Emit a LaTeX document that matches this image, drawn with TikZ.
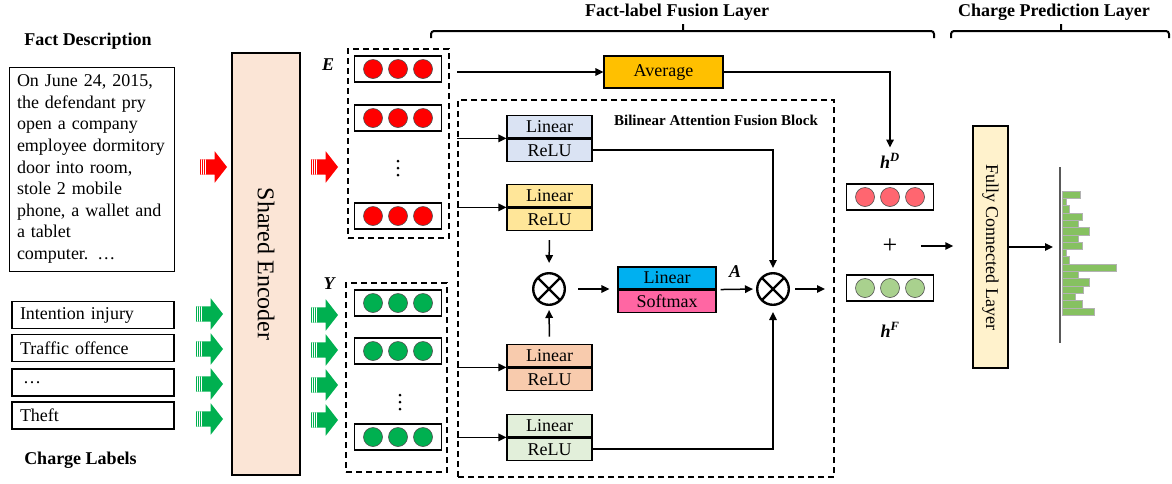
\documentclass[tikz,border=0pt]{standalone}
\usepackage{fontspec}
\setmainfont{Liberation Serif}
\usetikzlibrary{arrows.meta,positioning,shapes.arrows}
\definecolor{encfill}{HTML}{FBE5D6}
\definecolor{avgfill}{HTML}{FFC000}
\definecolor{lblue}{HTML}{DAE3F3}
\definecolor{lyellow}{HTML}{FFE699}
\definecolor{lorange}{HTML}{F8CBAD}
\definecolor{lgreen}{HTML}{E2EFDA}
\definecolor{cyanfill}{HTML}{00B0F0}
\definecolor{pinkfill}{HTML}{FF66A3}
\definecolor{fcfill}{HTML}{FFF2CC}
\definecolor{cred}{HTML}{FF0000}
\definecolor{cgreen}{HTML}{00B050}
\definecolor{cpink}{HTML}{FF6670}
\definecolor{clgreen}{HTML}{A9D18E}
\definecolor{barfill}{HTML}{86C160}
\newcommand\fs{\fontsize{18}{21.6}\selectfont}

\begin{document}
\begin{tikzpicture}[
    x=1pt, y=-1pt, % pixel grid, (0,0) at top left
    box/.style={draw, line width=1.2pt, inner sep=0pt, font=\fs},
    layer/.style={box, minimum width=85pt, minimum height=22.5pt},
    vecbox/.style={draw, line width=1.5pt, minimum width=87pt, minimum height=26pt, inner sep=0pt},
    dot/.style={circle, draw=black!70, line width=0.6pt, minimum size=19pt, inner sep=0pt},
    vdot/.style={circle, fill=black, minimum size=3pt, inner sep=0pt},
    dashbox/.style={draw, line width=1.4pt, dash pattern=on 6pt off 4pt, inner sep=0pt},
    ttl/.style={font=\fontsize{18}{21.6}\selectfont\bfseries},
    sym/.style={font=\fontsize{18}{21.6}\selectfont\bfseries\itshape, inner sep=1pt},
    otimes/.style={circle, draw, line width=2.4pt, minimum size=31.6pt, inner sep=0pt,
        path picture={\draw[line width=2.4pt] (path picture bounding box.center) +(45:16) -- +(225:16)
            (path picture bounding box.center) +(135:16) -- +(-45:16);}},
    fat/.style={single arrow, fill=#1, draw=none, minimum height=27pt, inner xsep=0pt,
        inner ysep=7.5pt, single arrow head extend=8pt, single arrow tip angle=104,
        path picture={\foreach \s in {1.5,3.5,5.5}
            \draw[white, line width=0.6pt] ([xshift=\s pt]path picture bounding box.north west)
                -- ([xshift=\s pt]path picture bounding box.south west);}},
    arr/.style={-{Triangle[length=8pt,width=7.5pt]}, line width=1.5pt},
    brc/.style={line width=2pt, rounded corners=3pt}
]
\useasboundingbox (0,0) rectangle (1172,483);

% inputs
\node[ttl] (factt) at (88,41) {Fact Description};
\node[draw, line width=0.9pt, minimum width=165pt, minimum height=204pt, inner xsep=8pt,
      text width=149pt, align=left, font=\fs] (fact) at (91.5,169)
  {On June 24, 2015,\\the defendant pry\\open a company\\employee dormitory\\door into room,\\stole 2 mobile\\phone, a wallet and\\a tablet\\computer. …};
\foreach \i/\yy/\txt in {1/315/Intention injury, 2/348/Traffic offence, 3/382.5/{\,…}, 4/415.5/Theft}
  \node[box, minimum height=27pt, inner xsep=8pt, text width=146pt, align=left] (lab\i) at (93,\yy) {\txt};
\node[ttl] (labt) at (80.5,460) {Charge Labels};

% shared encoder
\node[draw, line width=1.8pt, fill=encfill, minimum width=68pt, minimum height=422pt] (enc) at (266,264) {};
\node[rotate=-90, font=\fontsize{24}{28}\selectfont] at (enc) {Shared Encoder};

\node[fat=cred] (fl0) at (210.5,167) {};
\node[fat=cred] (fr0) at (321.5,167) {};
\foreach \i/\yy in {1/315,2/350,3/385,4/420} {
  \node[fat=cgreen] (gl\i) at (206.5,\yy-1) {};
  \node[fat=cgreen] (gr\i) at (321.5,\yy) {};
}

% embeddings
\node[dashbox, minimum width=101pt, minimum height=189pt] (edash) at (398.5,143.5) {};
\node[dashbox, minimum width=101pt, minimum height=189pt] (ydash) at (396.5,377.5) {};
\node[sym] (el) at (328,65) {E};
\node[sym] (yl) at (329,284) {Y};
\foreach \nm/\cx/\cy/\col in {e1/398/69/cred, e2/398/118/cred, e3/398/216/cred,
    y1/398/303/cgreen, y2/398/351/cgreen, y3/398/437/cgreen, hd/890/197/cpink, hf/890/288/clgreen} {
  \node[vecbox] (\nm) at (\cx,\cy) {};
  \foreach \k/\dx in {1/-25,2/0,3/25}
    \node[dot, fill=\col] (\nm-\k) at (\cx+\dx,\cy) {};
}
\foreach \nm/\cx/\cy in {ed/398/168, yd/400/402}
  \foreach \k/\dy in {1/-7,2/0,3/7}
    \node[vdot] (\nm\k) at (\cx,\cy+\dy) {};

% fusion layer
\node[ttl] (fust) at (677,12) {Fact-label Fusion Layer};
\draw[brc] (431,38) -- (431,31) -- (934,31) -- (934,38) (683,31) -- (683,24);
\node[ttl] (cpt) at (1054,12) {Charge Prediction Layer};
\draw[brc] (951,38) -- (951,31) -- (1169,31) -- (1169,38) (1061,31) -- (1061,24);

\node[box, fill=avgfill, minimum width=119pt, minimum height=32pt] (avg) at (663.5,72) {Average};
\node[dashbox, minimum width=376pt, minimum height=377pt] (blk) at (646,288.5) {};
\node[font=\fontsize{15}{18}\selectfont\bfseries] (blkt) at (716,120) {Bilinear Attention Fusion Block};

\node[layer, fill=lblue] (lin1) at (549.5,126.5) {Linear};
\node[layer, fill=lblue, below=0pt of lin1] (relu1) {ReLU};
\node[layer, fill=lyellow] (lin2) at (549.5,195.5) {Linear};
\node[layer, fill=lyellow, below=0pt of lin2] (relu2) {ReLU};
\node[layer, fill=lorange] (lin3) at (549.5,355.5) {Linear};
\node[layer, fill=lorange, below=0pt of lin3] (relu3) {ReLU};
\node[layer, fill=lgreen] (lin4) at (549.5,425.5) {Linear};
\node[layer, fill=lgreen, below=0pt of lin4] (relu4) {ReLU};
\node[layer, fill=cyanfill, minimum width=98pt, minimum height=22pt] (lin5) at (667,278) {Linear};
\node[layer, fill=pinkfill, minimum width=98pt, minimum height=22pt, below=0pt of lin5] (soft) {Softmax};

\node[otimes] (ot1) at (549,289) {};
\node[otimes] (ot2) at (773,289) {};
\node[sym] (al) at (735,272) {A};
\coordinate (otout) at (825,289);

\draw[arr] (blk.west |- avg) -- (avg.west);
\foreach \n in {lin1,lin2,lin3,lin4}
  \draw[arr] (blk.west |- \n.south) -- (\n.south west);
\draw[arr, shorten <=9pt, shorten >=9pt] (relu2.south) -- (ot1.north);
\draw[arr, shorten <=7pt, shorten >=4pt] (lin3.north) -- (ot1.south);
\draw[arr, shorten <=12pt, shorten >=8pt] (ot1.east) -- (lin5.west |- ot1);
\draw[arr, shorten <=4pt, shorten >=3pt] (lin5.south east) -- (ot2.west);
\draw[arr, shorten >=4pt] (relu1.east) -| (ot2.north);
\draw[arr, shorten >=6pt] (relu4.east) -| (ot2.south);
\draw[arr, shorten <=5pt] (ot2.east) -- (otout);

% outputs
\node[sym] (hdl) at (890,161) {h\textsuperscript{D}};
\node[sym] (hfl) at (890,330) {h\textsuperscript{F}};
\node[font=\fontsize{26}{30}\selectfont] (plus) at (890,246) {+};
\draw[arr, shorten >=5pt] (avg.east) -| (hdl.north);

\node[draw, line width=1.5pt, fill=fcfill, minimum width=35pt, minimum height=242pt] (fc) at (990.5,247) {};
\node[rotate=-90, font=\fs] at (fc) {Fully Connected Layer};
\draw[arr, shorten <=20pt, shorten >=19pt] (plus.east) -- (plus.east -| fc.west);

\draw[line width=2.2pt, black!65] (1060,167) -- (1060,343);
\coordinate (hax) at (1060,247);
\foreach \len [count=\i] in {18,4,7,20,16,27,16,20,4,7,54,16,27,21,13,20,32}
  \draw[fill=barfill, draw=black!30, line width=0.5pt] (1062,191+\i*7.3-7.3) rectangle +(\len,7.3);
\draw[arr, shorten >=7pt] (fc.east) -- (hax);
\end{tikzpicture}
\end{document}
